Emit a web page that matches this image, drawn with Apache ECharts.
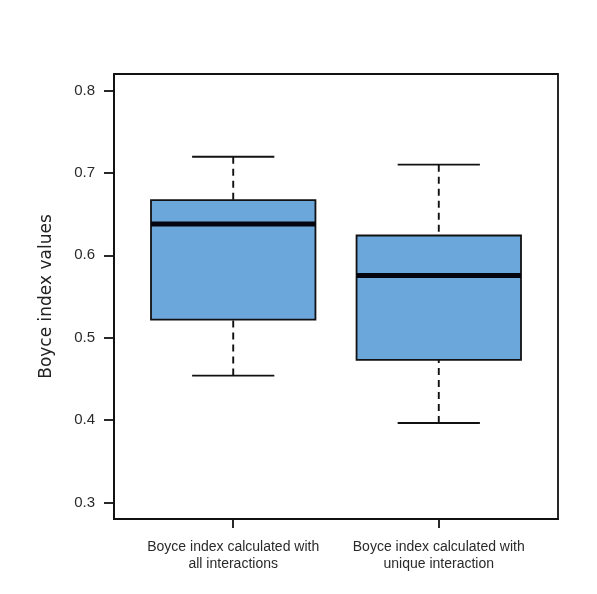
<!DOCTYPE html>
<html>
<head>
<meta charset="utf-8">
<script src="https://cdn.jsdelivr.net/npm/echarts@6/dist/echarts.min.js"></script>
<style>html,body{margin:0;padding:0;background:#fff;}#c{width:597px;height:594px;}</style>
</head>
<body>
<div id="c"></div>
<script>
const categories = ['Boyce index calculated with\nall interactions', 'Boyce index calculated with\nunique interaction'];
const positions = [1, 2];
const whiskerLow = [0.454, 0.3965];
const q1Values = [0.522, 0.473];
const medianValues = [0.638, 0.5755];
const q3Values = [0.667, 0.624];
const whiskerHigh = [0.7195, 0.710];
const yTicks = [0.3, 0.4, 0.5, 0.6, 0.7, 0.8];

const data = categories.map((c, i) => [positions[i], whiskerLow[i], q1Values[i], medianValues[i], q3Values[i], whiskerHigh[i]]);

const chart = echarts.init(document.getElementById('c'));
const font = 'Liberation Sans, Arial, sans-serif';
chart.setOption({
  backgroundColor: '#ffffff',
  animation: false,
  grid: {left: 114, right: 39, top: 74, bottom: 75, show: true, borderColor: '#111', borderWidth: 1.8, backgroundColor: 'transparent'},
  xAxis: {
    type: 'value', min: 0.42, max: 2.58,
    splitLine: {show: false},
    axisLine: {show: true, lineStyle: {color: '#111', width: 1.8}},
    axisTick: {show: true, length: 9, customValues: positions, lineStyle: {color: '#111', width: 1.8}},
    axisLabel: {customValues: positions, color: '#2a2a2a', fontFamily: font, fontSize: 14, lineHeight: 16.5, margin: 20,
      formatter: v => categories[positions.indexOf(v)] || ''}
  },
  yAxis: {
    type: 'value', min: 0.28, max: 0.82,
    name: 'Boyce index values', nameLocation: 'middle', nameGap: 59,
    nameTextStyle: {color: '#222', fontFamily: 'DejaVu Sans, sans-serif', fontSize: 17},
    splitLine: {show: false},
    axisLine: {show: true, lineStyle: {color: '#111', width: 1.8}},
    axisTick: {show: true, length: 10, customValues: yTicks, lineStyle: {color: '#111', width: 1.8}},
    axisLabel: {customValues: yTicks, color: '#2a2a2a', fontFamily: font, fontSize: 15, margin: 19, formatter: v => v.toFixed(1)}
  },
  series: [{
    type: 'custom',
    data: data,
    encode: {x: 0, y: [1, 2, 3, 4, 5]},
    renderItem: function (params, api) {
      const x = api.value(0);
      const bw = api.size([0.8, 0])[0];
      const cw = api.size([0.4, 0])[0];
      const pLow = api.coord([x, api.value(1)]);
      const pQ1 = api.coord([x, api.value(2)]);
      const pMed = api.coord([x, api.value(3)]);
      const pQ3 = api.coord([x, api.value(4)]);
      const pHigh = api.coord([x, api.value(5)]);
      const cx = pMed[0];
      const dashStyle = {stroke: '#111', lineWidth: 1.9, lineDash: [7, 5], fill: null};
      const solid = {stroke: '#111', lineWidth: 1.9, fill: null};
      return {
        type: 'group',
        children: [
          {type: 'line', shape: {x1: cx, y1: pHigh[1], x2: cx, y2: pQ3[1]}, style: dashStyle},
          {type: 'line', shape: {x1: cx, y1: pLow[1], x2: cx, y2: pQ1[1]}, style: dashStyle},
          {type: 'line', shape: {x1: cx - cw / 2, y1: pHigh[1], x2: cx + cw / 2, y2: pHigh[1]}, style: solid},
          {type: 'line', shape: {x1: cx - cw / 2, y1: pLow[1], x2: cx + cw / 2, y2: pLow[1]}, style: solid},
          {type: 'rect', shape: {x: cx - bw / 2, y: pQ3[1], width: bw, height: pQ1[1] - pQ3[1]},
            style: {fill: '#6CA7DB', stroke: '#111', lineWidth: 1.8}},
          {type: 'line', shape: {x1: cx - bw / 2, y1: pMed[1], x2: cx + bw / 2, y2: pMed[1]},
            style: {stroke: '#050510', lineWidth: 4.8}}
        ]
      };
    }
  }]
});
</script>
</body>
</html>
